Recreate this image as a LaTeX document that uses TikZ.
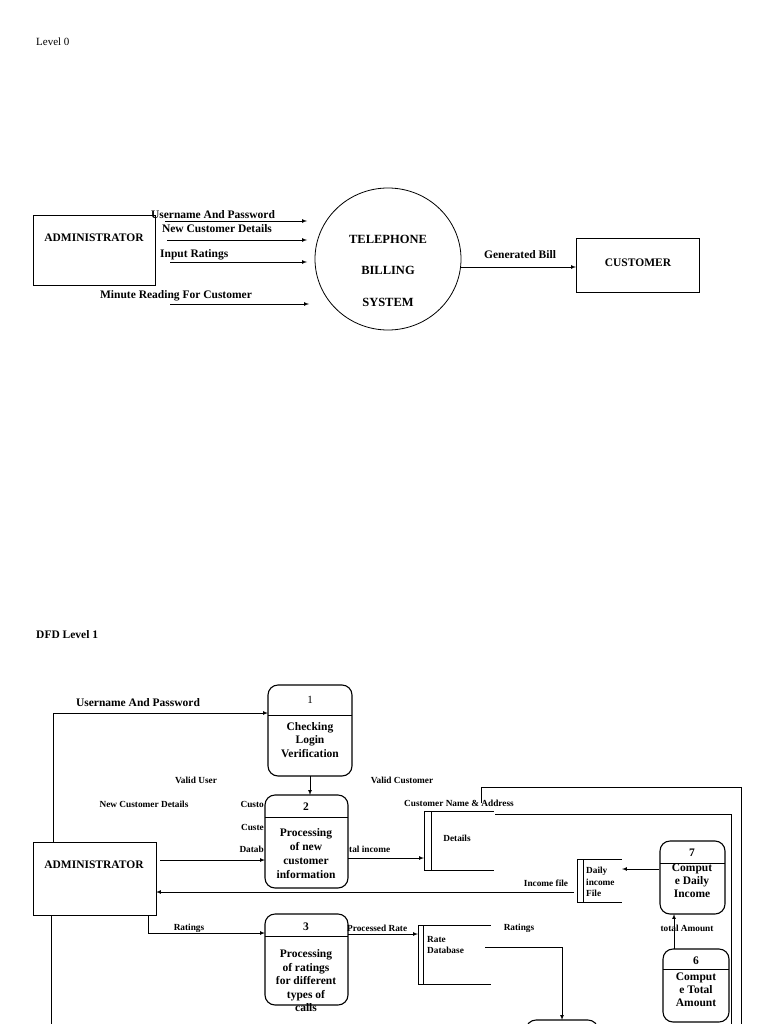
\documentclass[tikz,border=0pt]{standalone}
\usepackage{fontspec}
\setmainfont{Liberation Serif}
\usetikzlibrary{arrows,shapes.geometric}

\tikzset{
  box/.style={draw, line width=0.8pt, inner sep=0pt, outer sep=0pt},
  proc/.style={draw, line width=1.1pt, rounded corners=10pt, inner sep=0pt, outer sep=0pt},
  store/.style={inner sep=0pt, outer sep=0pt},
  flow/.style={-latex, line width=0.7pt},
  line/.style={line width=0.8pt},
  big/.style={inner sep=0pt, font=\bfseries\fontsize{11.5}{13.5}\selectfont},
  ptext/.style={inner sep=0pt, align=center, font=\bfseries\fontsize{11.5}{13.5}\selectfont},
  small/.style={inner sep=0pt, font=\bfseries\fontsize{9.3}{11.5}\selectfont}
}

\begin{document}
\begin{tikzpicture}[x=1pt,y=-1pt]

\useasboundingbox (0,0) rectangle (768,1024);
\clip (0,0) rectangle (768,1024);

% Level 0
\node[anchor=west, inner sep=0pt, font=\fontsize{11}{13}\selectfont] (lv0) at (36,42) {Level 0};

\node[box, minimum width=122pt, minimum height=70pt] (adm0) at (94,250) {};
\node[big] (adm0t) at (94,238) {ADMINISTRATOR};

\node[box, draw, ellipse, minimum width=146pt, minimum height=142pt] (tbs) at (388,259) {};
\node[big, font=\bfseries\fontsize{12.5}{14}\selectfont] (tbs1) at (388,239) {TELEPHONE};
\node[big, font=\bfseries\fontsize{12.5}{14}\selectfont] (tbs2) at (388,270) {BILLING};
\node[big, font=\bfseries\fontsize{12.5}{14}\selectfont] (tbs3) at (388,302) {SYSTEM};

\node[box, minimum width=123pt, minimum height=54pt] (cus) at (637.5,265) {};
\node[big] (cust) at (638,263) {CUSTOMER};

\coordinate (u0s) at (165,221);
\coordinate (u0e) at (307,221);
\coordinate (n0s) at (167,240);
\coordinate (n0e) at (307,240);
\coordinate (i0s) at (170,262);
\coordinate (i0e) at (307,262);
\coordinate (m0s) at (170,304);
\coordinate (m0e) at (309,304);
\coordinate (gb) at (460,267);

\node[big] (u0) at (213,215) {Username And Password};
\node[big] (n0) at (217,229) {New Customer Details};
\node[big, anchor=west] (i0) at (160,255) {Input Ratings};
\node[big] (m0) at (176,296) {Minute Reading For Customer};
\node[big] (gbt) at (520,255) {Generated Bill};

\draw[flow] (u0s) -- (u0e);
\draw[flow] (n0s) -- (n0e);
\draw[flow] (i0s) -- (i0e);
\draw[flow] (m0s) -- (m0e);
\draw[flow] (gb) -- (cus.west |- gb);

% DFD Level 1
\node[big, anchor=west] (lv1) at (36,635) {DFD Level 1};

\node[box, minimum width=123pt, minimum height=73pt] (adm1) at (94.5,878.5) {};
\node[big] (adm1t) at (94,865) {ADMINISTRATOR};

\node[proc, minimum width=84pt, minimum height=91pt] (p1) at (310,730.5) {};
\draw[line] ([yshift=-30pt]p1.north west) -- ([yshift=-30pt]p1.north east);
\node[ptext, font=\fontsize{11}{13}\selectfont] (p1n) at (310,700) {1};
\node[ptext] (p1t) at (310,740) {Checking\\Login\\Verification};

\node[proc, minimum width=83pt, minimum height=93pt] (p2) at (306.5,841.5) {};
\draw[line] ([yshift=-22pt]p2.north west) -- ([yshift=-22pt]p2.north east);
\node[ptext] (p2n) at (306,807) {2};
\node[ptext, font=\bfseries\fontsize{11.5}{14}\selectfont] (p2t) at (306,854) {Processing\\of new\\customer\\information};

\node[proc, minimum width=83pt, minimum height=91pt] (p3) at (306.5,959.5) {};
\draw[line] ([yshift=-22pt]p3.north west) -- ([yshift=-22pt]p3.north east);
\node[ptext] (p3n) at (306,927) {3};
\node[ptext] (p3t) at (306,981) {Processing\\of ratings\\for different\\types of\\calls};

\node[proc, minimum width=65pt, minimum height=73pt] (p7) at (692.5,877.5) {};
\draw[line] ([yshift=-22pt]p7.north west) -- ([yshift=-22pt]p7.north east);
\node[ptext] (p7n) at (692,853) {7};
\node[ptext, font=\bfseries\fontsize{11.5}{13}\selectfont] (p7t) at (692,881) {Comput\\e Daily\\Income};

\node[proc, minimum width=66pt, minimum height=73pt] (p6) at (696,985.5) {};
\draw[line] ([yshift=-20pt]p6.north west) -- ([yshift=-20pt]p6.north east);
\node[ptext] (p6n) at (696,961) {6};
\node[ptext, font=\bfseries\fontsize{11.5}{13}\selectfont] (p6t) at (696,989.5) {Comput\\e Total\\Amount};

\node[proc, minimum width=72pt, minimum height=80pt] (p8) at (562,1060) {};

% data stores
\node[store, minimum width=70pt, minimum height=59pt] (det) at (459,840.5) {};
\draw[line] (det.north west) -- (det.north east) (det.south west) -- (det.south east);
\draw[line] (det.north west) rectangle ([xshift=7pt]det.south west);
\node[small] (dett) at (457,838) {Details};

\node[store, minimum width=45pt, minimum height=43pt] (inc) at (599.5,880.5) {};
\draw[line] (inc.north west) -- (inc.north east) (inc.south west) -- (inc.south east);
\draw[line] (inc.north west) rectangle ([xshift=6pt]inc.south west);
\node[small, align=left, anchor=west] (inct) at (586,882) {Daily\\income\\File};

\node[store, minimum width=73pt, minimum height=59pt] (rate) at (454.5,954.5) {};
\draw[line] (rate.north west) -- (rate.north east) (rate.south west) -- (rate.south east);
\draw[line] (rate.north west) rectangle ([xshift=5pt]rate.south west);
\node[small, align=left, anchor=west] (ratet) at (427,945) {Rate\\Database};

% labels
\node[big] (u1) at (138,703) {Username And Password};
\node[small] (vu) at (196,780) {Valid User};
\node[small] (vc) at (402,780) {Valid Customer};
\node[small] (ncd) at (144,804) {New Customer Details};
\node[small, anchor=east] (cu1) at (264,804) {Custo};
\node[small, anchor=east] (cu2) at (264,827) {Custe};
\node[small, anchor=east] (db) at (264,849) {Datab};
\node[small, anchor=west] (ti) at (349,849) {tal income};
\node[small] (cna) at (459,803) {Customer Name \& Address};
\node[small] (ifl) at (546,883) {Income file};
\node[small] (ta) at (687,928) {total Amount};
\node[small] (rt1) at (189,928) {Ratings};
\node[small, anchor=west] (pr) at (347,928) {Processed Rate};
\node[small] (rt2) at (519,928) {Ratings};

% flows
\coordinate (uc) at (53,713);
\coordinate (ndc) at (160,860);
\coordinate (tic) at (348,858);
\coordinate (ifc) at (574,892);
\coordinate (dic) at (659,869);
\coordinate (tac) at (674,930);
\coordinate (rtc) at (148,933);
\coordinate (prc) at (348,934);
\coordinate (rdc) at (485,947);
\coordinate (rdk) at (562,947);
\coordinate (adb) at (51,1030);
\coordinate (vc1) at (481,803);
\coordinate (vc2) at (481,787);
\coordinate (vc3) at (741,787);
\coordinate (vc4) at (741,1030);
\coordinate (cn1) at (495,814);
\coordinate (cn2) at (731,814);
\coordinate (cn3) at (731,1030);

\draw[flow] (adm1.north -| uc) -- (uc) -- (p1.west |- uc);
\draw[flow] (p1.south) -- (p1.south |- p2.north);
\draw[flow] (ndc) -- (p2.west |- ndc);
\draw[flow] (tic) -- (det.west |- tic);
\draw[flow] (ifc) -- (adm1.east |- ifc);
\draw[flow] (dic) -- (inc.east |- dic);
\draw[flow] (p6.north -| tac) -- (p7.south -| tac);
\draw[flow] (adm1.south -| rtc) -- (rtc) -- (p3.west |- rtc);
\draw[flow] (prc) -- (rate.west |- prc);
\draw[flow] (rdc) -- (rdk) -- (p8.north);
\draw[line] (adm1.south -| adb) -- (adb);
\draw[line] (vc1) -- (vc2) -- (vc3) -- (vc4);
\draw[line] (cn1) -- (cn2) -- (cn3);

\end{tikzpicture}
\end{document}
